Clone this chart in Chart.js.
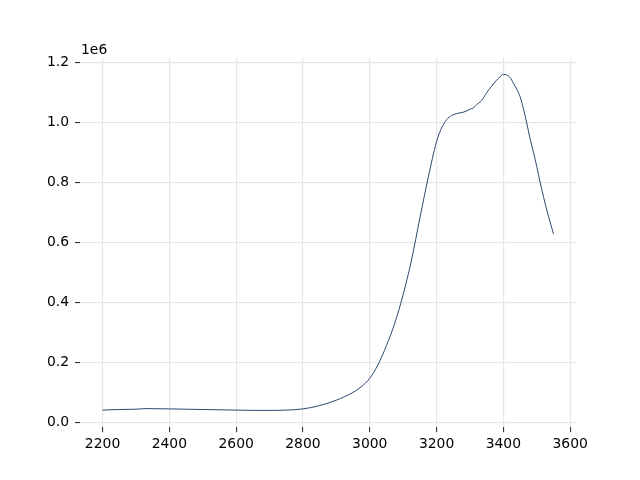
<!DOCTYPE html>
<html>
<head>
<meta charset="utf-8">
<script src="https://cdn.jsdelivr.net/npm/chart.js@4"></script>
<style>
    html, body { margin: 0; padding: 0; background: #ffffff; }
    #wrap { width: 640px; height: 480px; }
</style>
</head>
<body>
<div id="wrap"><canvas id="spectrumChart" width="640" height="480"></canvas></div>
<script>
const xValues = [
    2200, 2250, 2300, 2330, 2400, 2450, 2500, 2550, 2600, 2650, 2700, 2750, 2800, 2850,
    2900, 2925, 2950, 2975, 3000, 3025, 3050, 3075, 3100, 3125, 3150, 3175, 3200, 3215,
    3230, 3245, 3260, 3270, 3280, 3290, 3300, 3310, 3320, 3335, 3350, 3365, 3380, 3390,
    3400, 3410, 3420, 3430, 3440, 3450, 3460, 3470, 3480, 3490, 3500, 3510, 3520, 3530,
    3540, 3550
];
const yValues = [
    40000, 42000, 43000, 45000, 44000, 43000, 42000, 41000, 40000, 39000, 39000, 40000, 44000, 55000,
    73000, 85000, 99000, 118000, 146000, 192000, 255000, 330000, 425000, 540000, 680000, 815000, 935000, 980000,
    1008000, 1022000, 1028000, 1031000, 1033000, 1037000, 1043000, 1047000, 1058000, 1072000, 1098000, 1120000, 1140000, 1151000,
    1159000, 1157000, 1149000, 1130000, 1110000, 1085000, 1045000, 997000, 945000, 900000, 852000, 800000, 752000, 707000,
    667000, 627000
];
const xTicks = [2200, 2400, 2600, 2800, 3000, 3200, 3400, 3600];
const yTicks = [0, 200000, 400000, 600000, 800000, 1000000, 1200000];

const points = xValues.map((x, i) => ({ x: x, y: yValues[i] }));

// matplotlib style 5% margins
let xMin = Math.min(...xValues), xMax = Math.max(...xValues);
let yMin = Math.min(...yValues), yMax = Math.max(...yValues);
let xPad = (xMax - xMin) * 0.05, yPad = (yMax - yMin) * 0.05;

const font = { family: 'DejaVu Sans', size: 13.9 };

const offsetText = {
    id: 'offsetText',
    afterDraw(chart) {
        let c = chart.ctx;
        c.save();
        c.font = '13.9px "DejaVu Sans"';
        c.fillStyle = '#000000';
        c.textBaseline = 'alphabetic';
        c.textAlign = 'left';
        c.fillText('1e6', chart.chartArea.left + 1, chart.chartArea.top - 4);
        c.restore();
    }
};

let ctx = document.getElementById('spectrumChart');

new Chart(ctx, {
    type: 'line',
    data: {
        datasets: [{
            data: points,
            borderColor: '#2b4870',
            borderWidth: 1,
            pointRadius: 0,
            cubicInterpolationMode: 'monotone',
            fill: false
        }]
    },
    options: {
        responsive: false,
        animation: false,
        layout: { padding: { left: 0, right: 64, top: 57.6, bottom: 0 } },
        plugins: {
            legend: { display: false },
            tooltip: { enabled: false }
        },
        scales: {
            x: {
                type: 'linear',
                min: xMin - xPad,
                max: xMax + xPad,
                afterBuildTicks: (scale) => { scale.ticks = xTicks.map(v => ({ value: v })); },
                afterFit: (scale) => { scale.height = 52.8; },
                border: { display: false },
                grid: { color: '#e6e6e6', lineWidth: 1.2, tickColor: '#222222', tickLength: 5, tickWidth: 1 },
                ticks: { font: font, color: '#000000', padding: 4, maxRotation: 0, callback: (v) => String(v) }
            },
            y: {
                type: 'linear',
                min: yMin - yPad,
                max: yMax + yPad,
                afterBuildTicks: (scale) => { scale.ticks = yTicks.map(v => ({ value: v })); },
                afterFit: (scale) => { scale.width = 80; },
                border: { display: false },
                grid: { color: '#e6e6e6', lineWidth: 1.2, tickColor: '#222222', tickLength: 5, tickWidth: 1 },
                ticks: { font: font, color: '#000000', padding: 6, callback: (v) => (v / 1e6).toFixed(1) }
            }
        }
    },
    plugins: [offsetText]
});
</script>
</body>
</html>
